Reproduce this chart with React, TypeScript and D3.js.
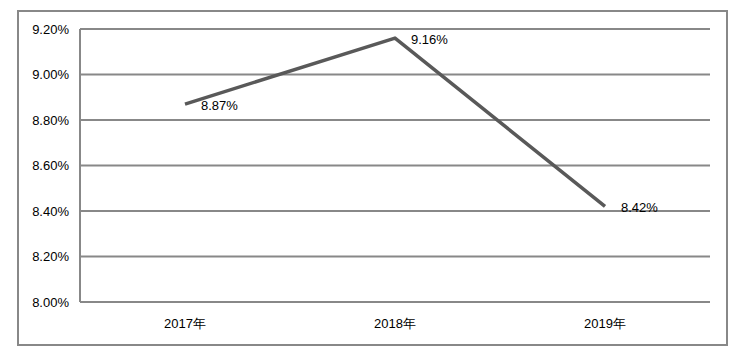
import React, { useRef, useEffect } from "react";
import * as d3 from "d3";

const categories = ["2017年", "2018年", "2019年"];
const values = [8.87, 9.16, 8.42];
const yTicks = [8.0, 8.2, 8.4, 8.6, 8.8, 9.0, 9.2];

const W = 746;
const H = 351;

export default function App() {
  const svgRef = useRef<SVGSVGElement>(null);

  useEffect(() => {
    const svg = d3.select(svgRef.current);
    svg.selectAll("*").remove();

    const margin = { top: 29, right: 36, bottom: 49, left: 80 };
    const w = W - margin.left - margin.right;
    const h = H - margin.top - margin.bottom;
    const font = "'Liberation Sans', Arial, sans-serif";

    // outer frame
    svg
      .append("rect")
      .attr("x", 18)
      .attr("y", 11)
      .attr("width", 709)
      .attr("height", 334)
      .attr("fill", "#fff")
      .attr("stroke", "#888")
      .attr("stroke-width", 2);

    const g = svg
      .append("g")
      .attr("transform", `translate(${margin.left},${margin.top})`);

    const x = d3.scaleBand().domain(categories).range([0, w]);
    const y = d3.scaleLinear().domain([8.0, 9.2]).range([h, 0]);

    // gridlines
    g.selectAll(".grid")
      .data(yTicks)
      .join("line")
      .attr("class", "grid")
      .attr("x1", 0)
      .attr("x2", w)
      .attr("y1", (d) => y(d))
      .attr("y2", (d) => y(d))
      .attr("stroke", "#888")
      .attr("stroke-width", 2);

    // left axis line
    g.append("line")
      .attr("x1", 0)
      .attr("x2", 0)
      .attr("y1", 0)
      .attr("y2", h)
      .attr("stroke", "#888")
      .attr("stroke-width", 2);

    // y labels
    g.selectAll(".ylab")
      .data(yTicks)
      .join("text")
      .attr("class", "ylab")
      .attr("x", -11)
      .attr("y", (d) => y(d))
      .attr("dy", "0.35em")
      .attr("text-anchor", "end")
      .attr("font-family", font)
      .attr("font-size", "13px")
      .attr("fill", "#000")
      .text((d) => `${d.toFixed(2)}%`);

    // x labels
    g.selectAll(".xlab")
      .data(categories)
      .join("text")
      .attr("class", "xlab")
      .attr("x", (d) => (x(d) ?? 0) + x.bandwidth() / 2)
      .attr("y", h + 26)
      .attr("text-anchor", "middle")
      .attr("font-family", font)
      .attr("font-size", "13px")
      .attr("fill", "#000")
      .text((d) => d);

    const pts = categories.map((c, i) => ({ c, v: values[i] }));
    const line = d3
      .line<{ c: string; v: number }>()
      .x((d) => (x(d.c) ?? 0) + x.bandwidth() / 2)
      .y((d) => y(d.v));

    g.append("path")
      .datum(pts)
      .attr("d", line)
      .attr("fill", "none")
      .attr("stroke", "#595959")
      .attr("stroke-width", 3.5)
      .attr("stroke-linejoin", "round");

    // value labels
    g.selectAll(".vlab")
      .data(pts)
      .join("text")
      .attr("class", "vlab")
      .attr("x", (d) => (x(d.c) ?? 0) + x.bandwidth() / 2 + 16)
      .attr("y", (d) => y(d.v) + 1)
      .attr("dy", "0.35em")
      .attr("font-family", font)
      .attr("font-size", "13px")
      .attr("fill", "#000")
      .text((d) => `${d.v.toFixed(2)}%`);
  }, []);

  return (
    <svg
      ref={svgRef}
      width={W}
      height={H}
      style={{ position: "absolute", left: 0, top: 0, display: "block" }}
    />
  );
}
